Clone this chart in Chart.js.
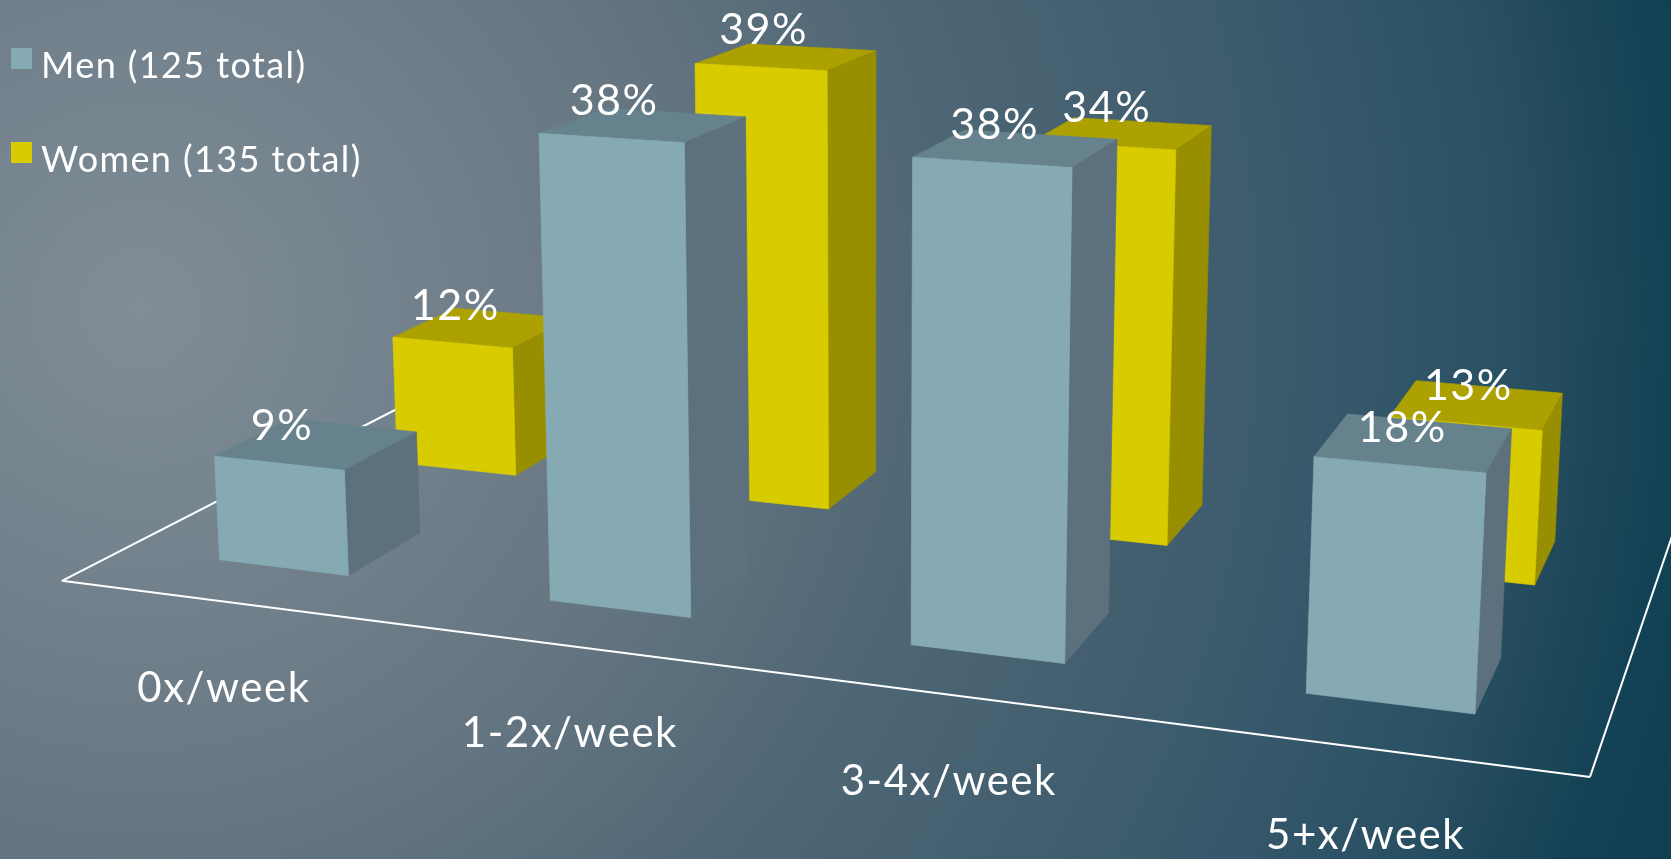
<!DOCTYPE html>
<html>
<head>
<meta charset="utf-8">
<title>Exercise per week</title>
<script src="https://cdn.jsdelivr.net/npm/chart.js@4/dist/chart.umd.min.js"></script>
<style>
  html, body { margin: 0; height: 100%; overflow: hidden; }
  body {
    background: radial-gradient(circle at 140px 310px,
      #808d97 0, #687883 490px, #506775 790px, #3a5a6c 1160px, #2b5165 1350px, #224a5c 1430px, #134254 1530px, #103d4f 1650px);
  }
  #wrap { position: absolute; left: 0; top: 0; width: 1671px; height: 859px; }
</style>
</head>
<body>
<div id="wrap"><canvas id="bars"></canvas></div>
<script>
const categories = ['0x/week', '1-2x/week', '3-4x/week', '5+x/week'];
const menValues = [9, 38, 38, 18];
const womenValues = [12, 39, 34, 13];
const seriesNames = ['Men (125 total)', 'Women (135 total)'];
const seriesColors = ['#86aab4', '#d8cc00'];
const topColors = ['#66828d', '#aca100'];
const sideColors = ['#5c707d', '#978e00'];

const FONT = 'Lato, sans-serif';
const BAR_SHARE = 0.4;

// floor plane -> screen: four known floor points give the homography,
// vertical lines lean towards a vanishing point far below the page
const anchors = [[348.5, 575.5], [1475, 714], [1534.6, 585], [515.8, 475.3]];
const vanish = [870, 13900];
const lift = -0.00087;

function makeProjection() {
    const [p0, p1, p2, p3] = anchors;
    const sx = p0[0] - p1[0] + p2[0] - p3[0], sy = p0[1] - p1[1] + p2[1] - p3[1];
    const dx1 = p1[0] - p2[0], dx2 = p3[0] - p2[0];
    const dy1 = p1[1] - p2[1], dy2 = p3[1] - p2[1];
    const det = dx1 * dy2 - dy1 * dx2;
    const g = (sx * dy2 - sy * dx2) / det;
    const h = (dx1 * sy - dy1 * sx) / det;
    const a = p1[0] - p0[0] + g * p1[0], b = p3[0] - p0[0] + h * p3[0];
    const d = p1[1] - p0[1] + g * p1[1], e = p3[1] - p0[1] + h * p3[1];
    return function (X, Y, Z) {
        const u = (X - 0.7) / 3, v = Z - 0.3;
        const w = g * u + h * v + 1 + Y * lift;
        return [
            (a * u + b * v + p0[0] + Y * lift * vanish[0]) / w,
            (d * u + e * v + p0[1] + Y * lift * vanish[1]) / w
        ];
    };
}
const project = makeProjection();

function face(ctx, points, color) {
    ctx.beginPath();
    points.forEach((p, i) => i ? ctx.lineTo(p[0], p[1]) : ctx.moveTo(p[0], p[1]));
    ctx.closePath();
    ctx.fillStyle = color;
    ctx.strokeStyle = color;
    ctx.lineWidth = 0.7;
    ctx.fill();
    ctx.stroke();
}

function floorLine(ctx, from, to) {
    const a = project(from[0], 0, from[1]), b = project(to[0], 0, to[1]);
    ctx.beginPath();
    ctx.moveTo(a[0], a[1]);
    ctx.lineTo(b[0], b[1]);
    ctx.stroke();
}

// the bar elements keep their layout from the scales, this only paints them as boxes
const boxes = {
    id: 'boxes',
    beforeDatasetsDraw(chart) {
        const ctx = chart.ctx;
        const xs = chart.scales.x, ys = chart.scales.y;
        const band = xs.width / categories.length;
        const n = categories.length;

        ctx.save();
        ctx.strokeStyle = '#ffffff';
        ctx.lineWidth = 2;
        floorLine(ctx, [0, 2], [0, 0]);
        floorLine(ctx, [0, 0], [n, 0]);
        floorLine(ctx, [n, 0], [n, 2]);

        const labels = [];
        // back row first so the front row covers it
        for (let row = chart.data.datasets.length - 1; row >= 0; row--) {
            chart.getDatasetMeta(row).data.forEach(el => {
                const X0 = (el.x - el.width / 2 - xs.left) / band;
                const X1 = (el.x + el.width / 2 - xs.left) / band;
                const Y = ys.getValueForPixel(el.y);
                const Z0 = row + (1 - BAR_SHARE) / 2, Z1 = Z0 + BAR_SHARE;

                face(ctx, [project(X0, Y, Z0), project(X1, Y, Z0), project(X1, Y, Z1), project(X0, Y, Z1)], topColors[row]);
                face(ctx, [project(X1, 0, Z0), project(X1, Y, Z0), project(X1, Y, Z1), project(X1, 0, Z1)], sideColors[row]);
                face(ctx, [project(X0, 0, Z0), project(X1, 0, Z0), project(X1, Y, Z0), project(X0, Y, Z0)], seriesColors[row]);

                // value sits above the middle of the box's top front edge
                const c = project((X0 + X1) / 2, Y, Z0);
                labels.push([Math.round(Y) + '%', c[0] + 3, c[1] - 37]);
            });
        }

        ctx.fillStyle = '#ffffff';
        ctx.textAlign = 'center';
        ctx.textBaseline = 'middle';
        ctx.letterSpacing = '1.5px';
        ctx.font = '43px ' + FONT;
        labels.forEach(l => ctx.fillText(l[0], l[1], l[2]));

        // category names sit a fixed drop below the floor's front edge
        ctx.font = '42px ' + FONT;
        chart.data.labels.forEach((name, i) => {
            const c = project(i + 0.5, 0, 0);
            ctx.fillText(name, c[0], c[1] + 87);
        });

        // legend
        ctx.textAlign = 'left';
        ctx.letterSpacing = '1.4px';
        ctx.font = '36px ' + FONT;
        chart.data.datasets.forEach((ds, i) => {
            const top = 48 + i * 94;
            ctx.fillStyle = ds.backgroundColor;
            ctx.fillRect(11, top, 21, 21);
            ctx.fillStyle = '#ffffff';
            ctx.fillText(ds.label, 41, top + 18);
        });
        ctx.restore();
        return false;
    }
};

new Chart(document.getElementById('bars'), {
    type: 'bar',
    data: {
        labels: categories,
        datasets: [
            { label: seriesNames[0], data: menValues, backgroundColor: seriesColors[0], grouped: false, categoryPercentage: 1, barPercentage: BAR_SHARE },
            { label: seriesNames[1], data: womenValues, backgroundColor: seriesColors[1], grouped: false, categoryPercentage: 1, barPercentage: BAR_SHARE }
        ]
    },
    plugins: [boxes],
    options: {
        responsive: true,
        maintainAspectRatio: false,
        animation: false,
        layout: { padding: 0 },
        plugins: {
            legend: { display: false },
            tooltip: { enabled: false }
        },
        scales: {
            x: { display: false },
            y: { display: false, min: 0, max: 40 }
        }
    }
});
</script>
</body>
</html>
